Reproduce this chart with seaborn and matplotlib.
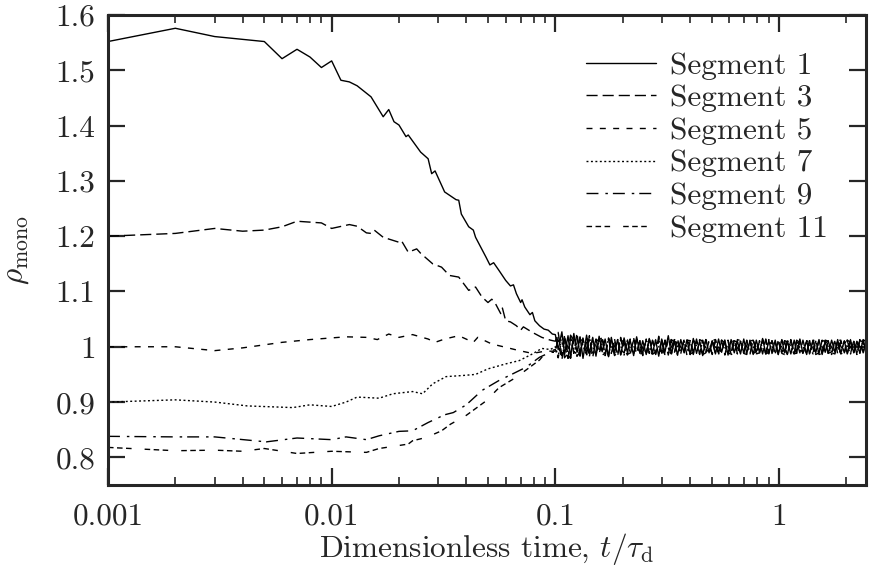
import numpy as np
import pandas as pd
import matplotlib
matplotlib.use("Agg")
import matplotlib.pyplot as plt
from matplotlib.ticker import FixedLocator, LogLocator, NullFormatter
import seaborn as sns

# ---------------- data ----------------
series_names = ["Segment 1", "Segment 3", "Segment 5", "Segment 7", "Segment 9", "Segment 11"]

t_seg1 = [0.001, 0.002, 0.003, 0.005, 0.006, 0.007, 0.008, 0.009, 0.010, 0.011, 0.012, 0.013,
          0.015, 0.017, 0.018, 0.019, 0.020, 0.0215, 0.022, 0.025, 0.027, 0.028, 0.029, 0.032,
          0.036, 0.037, 0.038, 0.041, 0.043, 0.044, 0.049, 0.051, 0.053, 0.056, 0.060, 0.063,
          0.065, 0.067, 0.070, 0.071, 0.073, 0.077, 0.079, 0.081, 0.085, 0.089, 0.093, 0.097]
v_seg1 = [1.552, 1.576, 1.561, 1.552, 1.521, 1.538, 1.524, 1.505, 1.517, 1.482, 1.479, 1.472,
          1.452, 1.416, 1.429, 1.407, 1.401, 1.380, 1.383, 1.352, 1.340, 1.313, 1.318, 1.280,
          1.266, 1.265, 1.240, 1.217, 1.211, 1.198, 1.162, 1.148, 1.152, 1.138, 1.120, 1.110,
          1.112, 1.096, 1.080, 1.085, 1.072, 1.058, 1.062, 1.047, 1.038, 1.032, 1.030, 1.023]

t_seg3 = [0.001, 0.002, 0.003, 0.004, 0.005, 0.006, 0.007, 0.009, 0.010, 0.012, 0.013, 0.0143,
          0.015, 0.0155, 0.017, 0.020, 0.0205, 0.022, 0.024, 0.025, 0.0283, 0.031, 0.0336, 0.037,
          0.041, 0.044, 0.047, 0.050, 0.052, 0.054, 0.057, 0.058, 0.060, 0.063, 0.067, 0.070,
          0.072, 0.079, 0.087, 0.095]
v_seg3 = [1.200, 1.205, 1.214, 1.209, 1.211, 1.217, 1.227, 1.224, 1.214, 1.221, 1.218, 1.206,
          1.205, 1.211, 1.198, 1.189, 1.192, 1.171, 1.177, 1.169, 1.150, 1.144, 1.129, 1.126,
          1.102, 1.108, 1.090, 1.080, 1.086, 1.078, 1.060, 1.070, 1.047, 1.045, 1.038, 1.030,
          1.036, 1.026, 1.017, 1.012]

t_seg5 = [0.001, 0.002, 0.003, 0.004, 0.006, 0.008, 0.0116, 0.0143, 0.016, 0.018, 0.020, 0.023,
          0.027, 0.029, 0.032, 0.037, 0.043, 0.045, 0.052, 0.060, 0.069, 0.079, 0.090]
v_seg5 = [1.000, 1.000, 0.993, 0.998, 1.008, 1.013, 1.018, 1.017, 1.013, 1.023, 1.017, 1.022,
          1.014, 1.008, 1.014, 1.020, 1.008, 1.017, 1.005, 0.999, 0.993, 0.988, 0.992]

t_seg7 = [0.001, 0.002, 0.003, 0.0042, 0.0067, 0.008, 0.010, 0.0116, 0.013, 0.0163, 0.0188, 0.023,
          0.0255, 0.0283, 0.0325, 0.0385, 0.044, 0.050, 0.060, 0.069, 0.079, 0.087, 0.095]
v_seg7 = [0.900, 0.904, 0.900, 0.893, 0.890, 0.895, 0.892, 0.900, 0.909, 0.907, 0.915, 0.919,
          0.915, 0.933, 0.946, 0.948, 0.950, 0.960, 0.969, 0.975, 0.987, 0.997, 0.995]

t_seg9 = [0.001, 0.002, 0.003, 0.0051, 0.007, 0.010, 0.0116, 0.0143, 0.0163, 0.020, 0.023, 0.027,
          0.032, 0.035, 0.040, 0.047, 0.056, 0.0645, 0.074, 0.085, 0.095]
v_seg9 = [0.838, 0.837, 0.837, 0.828, 0.835, 0.832, 0.837, 0.832, 0.839, 0.847, 0.848, 0.863,
          0.877, 0.881, 0.895, 0.921, 0.939, 0.951, 0.963, 0.981, 0.990]

t_seg11 = [0.001, 0.002, 0.003, 0.004, 0.005, 0.007, 0.010, 0.0143, 0.0163, 0.022, 0.023, 0.0265,
           0.031, 0.034, 0.040, 0.049, 0.056, 0.067, 0.074, 0.085, 0.091]
v_seg11 = [0.818, 0.812, 0.813, 0.811, 0.816, 0.807, 0.811, 0.809, 0.816, 0.824, 0.830, 0.836,
           0.848, 0.860, 0.876, 0.902, 0.926, 0.945, 0.958, 0.976, 0.990]

# late-time, fluctuating part (shared sampling times, 100 samples)
t_late = [0.100, 0.103, 0.107, 0.110, 0.114, 0.117, 0.121, 0.125, 0.129, 0.133,
          0.138, 0.142, 0.147, 0.152, 0.157, 0.162, 0.167, 0.173, 0.178, 0.184,
          0.190, 0.196, 0.203, 0.210, 0.216, 0.224, 0.231, 0.239, 0.246, 0.255,
          0.263, 0.272, 0.281, 0.290, 0.299, 0.309, 0.320, 0.330, 0.341, 0.352,
          0.364, 0.376, 0.388, 0.401, 0.414, 0.428, 0.442, 0.456, 0.471, 0.487,
          0.503, 0.520, 0.537, 0.554, 0.573, 0.592, 0.611, 0.631, 0.652, 0.673,
          0.696, 0.718, 0.742, 0.767, 0.792, 0.818, 0.845, 0.873, 0.901, 0.931,
          0.962, 0.993, 1.03, 1.06, 1.09, 1.13, 1.17, 1.20, 1.24, 1.28,
          1.33, 1.37, 1.42, 1.46, 1.51, 1.56, 1.61, 1.66, 1.72, 1.78,
          1.83, 1.89, 1.96, 2.02, 2.09, 2.16, 2.23, 2.30, 2.38, 2.45]

late_seg1 = [1.022, 0.995, 1.027, 0.986, 1.020, 0.981, 1.024, 0.990, 1.018, 0.979,
             1.021, 0.988, 1.016, 0.983, 1.019, 0.991, 1.014, 0.982, 1.017, 0.989,
             1.013, 0.985, 1.016, 0.990, 1.012, 0.984, 1.018, 0.988, 1.011, 0.986,
             1.015, 0.989, 1.012, 0.983, 1.014, 0.990, 1.020, 0.987, 1.011, 0.985,
             1.013, 0.990, 1.012, 0.986, 1.015, 0.988, 1.010, 0.984, 1.013, 0.989,
             1.011, 0.987, 1.014, 0.990, 1.012, 0.985, 1.013, 0.989, 1.010, 0.987,
             1.014, 0.988, 1.011, 0.986, 1.012, 0.990, 1.015, 0.987, 1.011, 0.989,
             1.012, 0.986, 1.013, 0.989, 1.010, 0.987, 1.012, 0.990, 1.014, 0.988,
             1.011, 0.987, 1.012, 0.989, 1.013, 0.986, 1.010, 0.988, 1.012, 0.990,
             1.013, 0.988, 1.011, 0.987, 1.012, 0.989, 1.010, 0.988, 1.013, 0.990]
late_seg3 = [1.010, 1.026, 0.984, 1.021, 0.979, 1.017, 0.988, 1.025, 0.983, 1.015,
             0.986, 1.020, 0.981, 1.013, 0.990, 1.018, 0.984, 1.015, 0.988, 1.012,
             0.983, 1.017, 0.989, 1.013, 0.985, 1.016, 0.990, 1.011, 0.984, 1.014,
             0.988, 1.012, 0.986, 1.019, 0.989, 1.011, 0.985, 1.013, 0.990, 1.015,
             0.987, 1.012, 0.984, 1.011, 0.989, 1.014, 0.986, 1.012, 0.990, 1.010,
             0.986, 1.013, 0.988, 1.011, 0.985, 1.012, 0.989, 1.014, 0.987, 1.010,
             0.989, 1.012, 0.986, 1.013, 0.988, 1.010, 0.987, 1.014, 0.989, 1.011,
             0.987, 1.012, 0.990, 1.011, 0.986, 1.013, 0.988, 1.010, 0.989, 1.012,
             0.986, 1.011, 0.988, 1.013, 0.987, 1.012, 0.990, 1.011, 0.988, 1.013,
             0.987, 1.010, 0.989, 1.012, 0.988, 1.011, 0.986, 1.013, 0.989, 1.011]
late_seg5 = [0.992, 1.012, 0.975, 1.016, 0.998, 0.980, 1.019, 1.001, 0.984, 1.014,
             0.997, 0.982, 1.017, 1.002, 0.986, 1.013, 0.999, 0.983, 1.015, 1.001,
             0.987, 1.012, 0.998, 0.985, 1.014, 1.002, 0.988, 1.011, 0.997, 0.984,
             1.013, 1.000, 0.987, 1.012, 0.998, 0.986, 1.015, 1.001, 0.988, 1.011,
             0.999, 0.987, 1.012, 1.002, 0.986, 1.010, 0.998, 0.988, 1.013, 1.000,
             0.987, 1.011, 0.999, 0.989, 1.012, 1.001, 0.986, 1.010, 0.998, 0.988,
             1.012, 1.000, 0.987, 1.011, 0.999, 0.988, 1.013, 1.001, 0.987, 1.010,
             0.998, 0.989, 1.012, 1.000, 0.987, 1.011, 0.999, 0.988, 1.012, 1.001,
             0.987, 1.010, 0.998, 0.989, 1.012, 1.000, 0.988, 1.011, 0.999, 0.987,
             1.012, 1.001, 0.988, 1.010, 0.999, 0.987, 1.011, 1.000, 0.989, 1.012]
late_seg7 = [1.000, 0.982, 1.021, 1.003, 0.978, 1.016, 0.996, 0.983, 1.018, 1.002,
             0.984, 1.015, 0.999, 0.986, 1.012, 1.003, 0.983, 1.016, 0.998, 0.987,
             1.013, 1.001, 0.985, 1.012, 0.998, 0.988, 1.014, 1.002, 0.986, 1.011,
             0.999, 0.984, 1.013, 1.001, 0.987, 1.012, 0.998, 0.985, 1.014, 1.000,
             0.988, 1.011, 0.999, 0.986, 1.013, 1.001, 0.987, 1.012, 0.998, 0.989,
             1.011, 1.000, 0.986, 1.012, 0.999, 0.988, 1.013, 1.001, 0.987, 1.010,
             0.999, 0.988, 1.012, 1.000, 0.986, 1.011, 0.998, 0.989, 1.013, 1.001,
             0.987, 1.010, 0.999, 0.988, 1.012, 1.000, 0.986, 1.011, 0.998, 0.988,
             1.012, 1.001, 0.987, 1.010, 0.999, 0.988, 1.013, 1.000, 0.986, 1.011,
             0.999, 0.988, 1.012, 1.001, 0.987, 1.010, 0.998, 0.989, 1.012, 1.000]
late_seg9 = [0.990, 1.018, 1.010, 0.980, 0.989, 1.021, 1.012, 0.983, 0.990, 1.016,
             1.008, 0.982, 0.991, 1.014, 1.009, 0.985, 0.988, 1.015, 1.007, 0.984,
             0.990, 1.013, 1.008, 0.986, 0.989, 1.012, 1.009, 0.985, 0.991, 1.014,
             1.007, 0.987, 0.990, 1.012, 1.008, 0.986, 0.989, 1.013, 1.009, 0.985,
             0.991, 1.012, 1.007, 0.987, 0.990, 1.011, 1.008, 0.986, 0.989, 1.013,
             1.009, 0.988, 0.991, 1.012, 1.007, 0.986, 0.990, 1.011, 1.008, 0.987,
             0.989, 1.012, 1.009, 0.988, 0.991, 1.010, 1.007, 0.987, 0.990, 1.012,
             1.008, 0.986, 0.989, 1.011, 1.009, 0.988, 0.991, 1.012, 1.007, 0.987,
             0.990, 1.011, 1.008, 0.986, 0.989, 1.012, 1.009, 0.988, 0.991, 1.010,
             1.007, 0.987, 0.990, 1.012, 1.008, 0.988, 0.989, 1.011, 1.009, 0.987]
late_seg11 = [0.995, 0.980, 1.014, 1.020, 0.985, 0.979, 1.012, 1.017, 0.988, 0.982,
              1.015, 1.011, 0.986, 0.984, 1.013, 1.016, 0.989, 0.983, 1.012, 1.014,
              0.987, 0.985, 1.011, 1.013, 0.988, 0.986, 1.014, 1.010, 0.985, 0.989,
              1.012, 1.013, 0.987, 0.984, 1.011, 1.014, 0.988, 0.986, 1.013, 1.010,
              0.986, 0.988, 1.012, 1.011, 0.987, 0.985, 1.013, 1.010, 0.988, 0.986,
              1.011, 1.013, 0.987, 0.989, 1.012, 1.010, 0.986, 0.988, 1.013, 1.011,
              0.988, 0.986, 1.010, 1.012, 0.987, 0.989, 1.011, 1.013, 0.986, 0.988,
              1.012, 1.010, 0.988, 0.986, 1.013, 1.011, 0.987, 0.989, 1.010, 1.012,
              0.987, 0.988, 1.011, 1.013, 0.986, 0.988, 1.012, 1.010, 0.989, 0.987,
              1.011, 1.012, 0.988, 0.987, 1.013, 1.010, 0.986, 0.989, 1.012, 1.011]

x_tick_values = [0.001, 0.01, 0.1, 1]
x_tick_labels = ["0.001", "0.01", "0.1", "1"]
y_tick_values = [0.8, 0.9, 1.0, 1.1, 1.2, 1.3, 1.4, 1.5, 1.6]
y_tick_labels = ["0.8", "0.9", "1", "1.1", "1.2", "1.3", "1.4", "1.5", "1.6"]

# ---------------- build long-form table ----------------
parts = [(t_seg1, v_seg1, late_seg1), (t_seg3, v_seg3, late_seg3), (t_seg5, v_seg5, late_seg5),
         (t_seg7, v_seg7, late_seg7), (t_seg9, v_seg9, late_seg9), (t_seg11, v_seg11, late_seg11)]
frames = []
for name, (te, ve, vl) in zip(series_names, parts):
    n = min(len(t_late), len(vl))
    frames.append(pd.DataFrame({"t": list(te) + list(t_late[:n]),
                                "rho": list(ve) + list(vl[:n]),
                                "series": name}))
df = pd.concat(frames, ignore_index=True)

# ---------------- style ----------------
sns.set_style("ticks")
plt.rcParams["font.family"] = ["cmr10", "DejaVu Sans"]
plt.rcParams["mathtext.fontset"] = "cm"
plt.rcParams["axes.formatter.use_mathtext"] = True
plt.rcParams["axes.unicode_minus"] = False

FS = 22.5

dash_styles = {
    "Segment 1": None,
    "Segment 3": (8.0, 3.6),
    "Segment 5": (4.3, 5.3),
    "Segment 7": (1.4, 1.8),
    "Segment 9": (8.6, 5.0, 1.8, 3.6),
    "Segment 11": (4.0, 2.5, 4.0, 2.5, 4.0, 9.4),
}

fig = plt.figure(figsize=(8.69, 5.68), dpi=100)
ax = fig.add_axes([108 / 869, 83 / 568, 758 / 869, 470 / 568])

for name in series_names:
    sub = df[df["series"] == name]
    sns.lineplot(data=sub, x="t", y="rho", ax=ax, color="black", linewidth=1.0,
                 estimator=None, sort=False, label=name, legend=False)
    line = ax.lines[-1]
    if dash_styles[name] is not None:
        line.set_dashes(dash_styles[name])

ax.set_xscale("log")
ax.set_xlim(0.001, 2.45)
ax.set_ylim(0.75, 1.6)

ax.xaxis.set_major_locator(FixedLocator(x_tick_values))
ax.set_xticklabels(x_tick_labels)
ax.xaxis.set_minor_locator(LogLocator(base=10, subs=np.arange(2, 10), numticks=20))
ax.xaxis.set_minor_formatter(NullFormatter())
ax.set_yticks(y_tick_values)
ax.set_yticklabels(y_tick_labels)

ax.tick_params(which="both", direction="in", top=True, right=True, labelsize=FS)
ax.tick_params(which="major", length=12, width=1.6)
ax.tick_params(which="minor", length=6, width=1.2)
ax.tick_params(axis="y", which="major", pad=9)
ax.tick_params(axis="x", which="major", pad=13)
for sp in ax.spines.values():
    sp.set_linewidth(2.2)
    sp.set_visible(True)

ax.set_xlabel(r"Dimensionless time, $t/\tau_\mathrm{d}$", fontsize=FS, labelpad=0)
ax.set_ylabel(r"$\rho_\mathrm{mono}$", fontsize=FS, labelpad=18)

leg = ax.legend(loc="upper right", bbox_to_anchor=(0.950, 0.922), frameon=False,
                fontsize=FS, handlelength=2.25, handletextpad=0.45, labelspacing=0.15,
                borderpad=0, borderaxespad=0)
for h in leg.get_lines():
    h.set_linewidth(1.0)

fig.savefig("out.png", dpi=100)
